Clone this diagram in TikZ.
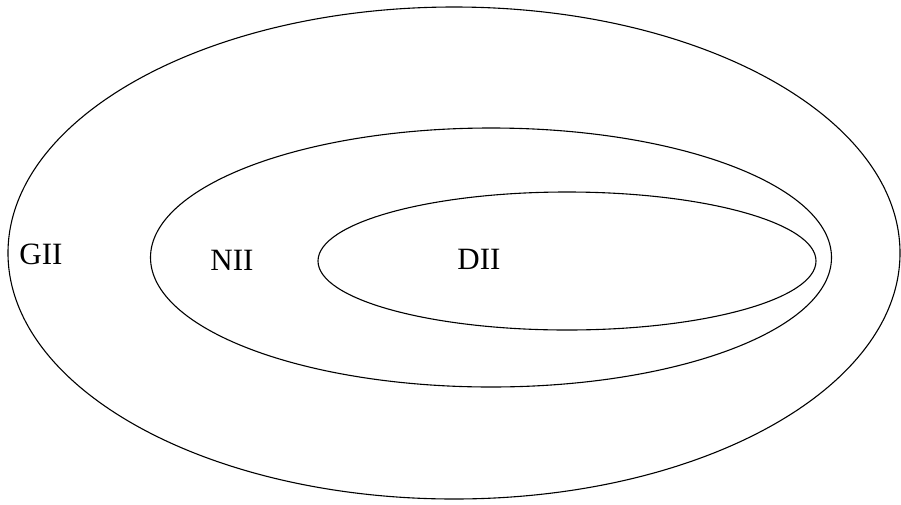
\documentclass[tikz,border=0pt]{standalone}
\usepackage{fontspec}
\setmainfont{Liberation Serif}
\begin{document}
\begin{tikzpicture}[x=1pt,y=-1pt,
  set/.style={draw=black,line width=1.1pt},
  lab/.style={font=\fontsize{31}{32}\selectfont,anchor=base,inner sep=0pt}]
\useasboundingbox (0,0) rectangle (901,504);
\draw[set] (454,253) ellipse [x radius=446, y radius=246];
\draw[set] (491,257.5) ellipse [x radius=340.5, y radius=129.5];
\draw[set] (567,261) ellipse [x radius=249, y radius=69];
\node[lab] (gii) at (41,264) {GII};
\node[lab] (nii) at (232,270) {NII};
\node[lab] (dii) at (479,269) {DII};
\end{tikzpicture}
\end{document}
